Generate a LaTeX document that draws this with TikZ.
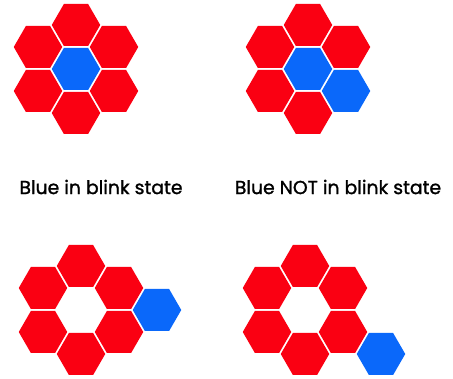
\documentclass[tikz,border=0pt]{standalone}
\usepackage{fontspec}
\setsansfont{Poppins}
\newfontfamily\captionfont[FakeBold=1.3]{Poppins}
\usetikzlibrary{shapes.geometric}
\definecolor{hexred}{RGB}{250,0,18}
\definecolor{hexblue}{RGB}{10,104,250}

\begin{document}
\begin{tikzpicture}[
    x=1pt, y=-1pt,
    font=\sffamily,
    hex/.style={regular polygon, regular polygon sides=6, minimum size=48.5pt,
        inner sep=0pt, draw=none, fill=hexred},
    hexon/.style={hex, fill=hexblue},
    caption/.style={font=\captionfont\fontsize{18.8}{22}\selectfont}
]

% ============================================================
% Global dimensions
% ============================================================
\def\dx{38}
\def\dy{22}

\useasboundingbox (0,0) rectangle (453,379);

% ============================================================
% TOP LEFT: blue in blink state
% ============================================================
\begin{scope}[shift={(76,69)}]
    \node[hexon] (a0) at (0,0) {};
    \node[hex] (a1) at (0,-2*\dy) {};
    \node[hex] (a2) at (\dx,-\dy) {};
    \node[hex] (a3) at (\dx,\dy) {};
    \node[hex] (a4) at (0,2*\dy) {};
    \node[hex] (a5) at (-\dx,\dy) {};
    \node[hex] (a6) at (-\dx,-\dy) {};
\end{scope}

% ============================================================
% TOP RIGHT: blue NOT in blink state
% ============================================================
\begin{scope}[shift={(308,69)}]
    \node[hexon] (b0) at (0,0) {};
    \node[hex] (b1) at (0,-2*\dy) {};
    \node[hex] (b2) at (\dx,-\dy) {};
    \node[hexon] (b3) at (\dx,\dy) {};
    \node[hex] (b4) at (0,2*\dy) {};
    \node[hex] (b5) at (-\dx,\dy) {};
    \node[hex] (b6) at (-\dx,-\dy) {};
\end{scope}

% Captions
\node[caption] (capA) at (101,187) {Blue in blink state};
\node[caption] (capB) at (338,187) {Blue NOT in blink state};

% ============================================================
% BOTTOM LEFT: ring, blue on the right
% ============================================================
\begin{scope}[shift={(81,310)}]
    \node[hex] (c1) at (0,-2*\dy) {};
    \node[hex] (c2) at (\dx,-\dy) {};
    \node[hex] (c3) at (\dx,\dy) {};
    \node[hex] (c4) at (0,2*\dy) {};
    \node[hex] (c5) at (-\dx,\dy) {};
    \node[hex] (c6) at (-\dx,-\dy) {};
    \node[hexon] (c7) at (2*\dx,0) {};
\end{scope}

% ============================================================
% BOTTOM RIGHT: ring, blue below right
% ============================================================
\begin{scope}[shift={(305,310)}]
    \node[hex] (d1) at (0,-2*\dy) {};
    \node[hex] (d2) at (\dx,-\dy) {};
    \node[hex] (d3) at (\dx,\dy) {};
    \node[hex] (d4) at (0,2*\dy) {};
    \node[hex] (d5) at (-\dx,\dy) {};
    \node[hex] (d6) at (-\dx,-\dy) {};
    \node[hexon] (d7) at (2*\dx,2*\dy) {};
\end{scope}

\end{tikzpicture}
\end{document}
